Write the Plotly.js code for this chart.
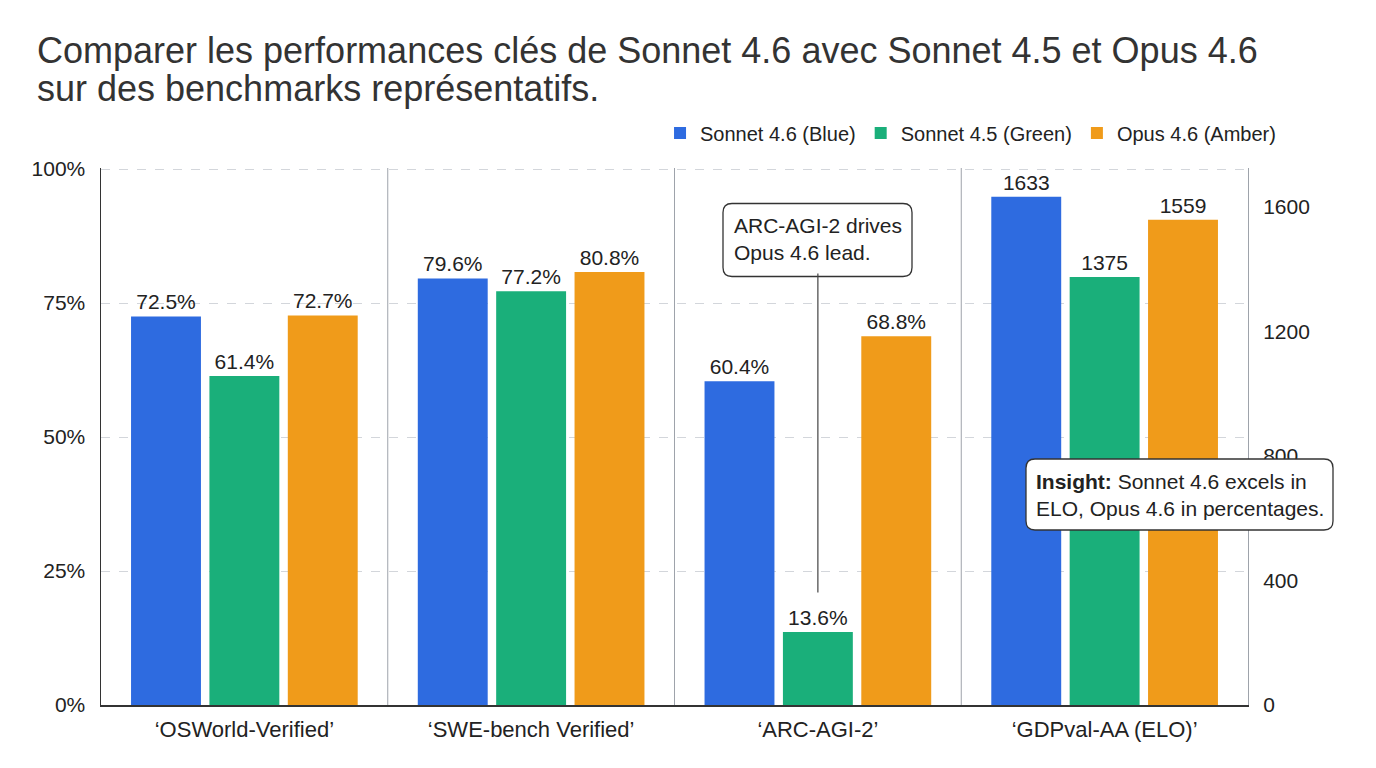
<!DOCTYPE html>
<html>
<head>
<meta charset="utf-8">
<script src="https://cdn.plot.ly/plotly-3.0.1.min.js"></script>
<style>
  html, body { margin: 0; padding: 0; background: #ffffff; }
  #chart { width: 1376px; height: 768px; }
</style>
</head>
<body>
<div id="chart"></div>
<script>
// ---- data ----
const categories = ["‘OSWorld-Verified’", "‘SWE-bench Verified’", "‘ARC-AGI-2’", "‘GDPval-AA (ELO)’"];
const pctCategories = ["‘OSWorld-Verified’", "‘SWE-bench Verified’", "‘ARC-AGI-2’"];
const eloCategories = ["‘GDPval-AA (ELO)’"];
const seriesNames = ["Sonnet 4.6 (Blue)", "Sonnet 4.5 (Green)", "Opus 4.6 (Amber)"];
const sonnet46Pct = [72.5, 79.6, 60.4];
const sonnet45Pct = [61.4, 77.2, 13.6];
const opus46Pct   = [72.7, 80.8, 68.8];
const sonnet46Elo = [1633];
const sonnet45Elo = [1375];
const opus46Elo   = [1559];
const pctTicks = [0, 25, 50, 75, 100];
const pctTickText = ["0%", "25%", "50%", "75%", "100%"];
const eloTicks = [0, 400, 800, 1200, 1600];
const titleLines = ["Comparer les performances clés de Sonnet 4.6 avec Sonnet 4.5 et Opus 4.6",
                    "sur des benchmarks représentatifs."];
const arcNote = "ARC-AGI-2 drives<br>Opus 4.6 lead.";
const insightNote = "<b>Insight:</b> Sonnet 4.6 excels in<br>ELO, Opus 4.6 in percentages.";

// ---- styles ----
const colors = ["#2e6be0", "#1aaf7a", "#f09b1a"];
const FONT = "Liberation Sans, Arial, Helvetica, sans-serif";
const textFont = { family: FONT, size: 21, color: "#222222" };

const pctSeries = [sonnet46Pct, sonnet45Pct, opus46Pct];
const eloSeries = [sonnet46Elo, sonnet45Elo, opus46Elo];

const traces = [];
pctSeries.forEach((vals, i) => {
  traces.push({
    type: "bar", name: seriesNames[i], legendgroup: "g" + i,
    x: pctCategories, y: vals, yaxis: "y",
    text: vals.map(v => v.toFixed(1) + "%"), texttemplate: "%{text}",
    marker: { color: colors[i], line: { width: 0 } },
    textposition: "outside", cliponaxis: false,
    textfont: textFont, hoverinfo: "x+y+name"
  });
});
eloSeries.forEach((vals, i) => {
  traces.push({
    type: "bar", name: seriesNames[i], legendgroup: "g" + i, showlegend: false,
    x: eloCategories, y: vals, yaxis: "y2",
    text: vals.map(v => String(v)), texttemplate: "%{text}",
    marker: { color: colors[i], line: { width: 0 } },
    textposition: "outside", cliponaxis: false,
    textfont: textFont, hoverinfo: "x+y+name"
  });
});

// category separators
const shapes = [];
for (let i = 1; i < categories.length; i++) {
  shapes.push({
    type: "line", xref: "x", yref: "paper",
    x0: i - 0.5, x1: i - 0.5, y0: 0, y1: 1,
    line: { color: "#9ea3ab", width: 1 }, layer: "below"
  });
}

// rounded boxes (pixel sized) for the notes
function roundedBox(xa, ya, w, h, r) {
  const x0 = -w / 2, x1 = w / 2, y0 = -h / 2, y1 = h / 2;
  const path = `M ${x0 + r},${y0} L ${x1 - r},${y0} Q ${x1},${y0} ${x1},${y0 + r} ` +
    `L ${x1},${y1 - r} Q ${x1},${y1} ${x1 - r},${y1} L ${x0 + r},${y1} ` +
    `Q ${x0},${y1} ${x0},${y1 - r} L ${x0},${y0 + r} Q ${x0},${y0} ${x0 + r},${y0} Z`;
  return {
    type: "path", xref: "paper", yref: "paper",
    xsizemode: "pixel", ysizemode: "pixel", xanchor: xa, yanchor: ya,
    path: path, fillcolor: "#ffffff", line: { color: "#333333", width: 1.3 }, layer: "above"
  };
}
// plot area: x 101..1248, y 168..705
const pxX = (px) => (px - 101) / (1248 - 101);
const pxY = (py) => (705 - py) / (705 - 168);

shapes.push(roundedBox(pxX(817.5), pxY(240), 189, 73, 9));
shapes.push(roundedBox(pxX(1179.5), pxY(494.5), 307, 71, 9));

const annotations = [
  {
    x: categories[2], xref: "x", y: 21, yref: "y",
    text: arcNote, showarrow: true, arrowhead: 0, arrowwidth: 1.2, arrowcolor: "#444444",
    ax: 0, ay: -353, axref: "pixel", ayref: "pixel",
    font: textFont, align: "left", borderpad: 9, borderwidth: 0,
    bgcolor: "rgba(0,0,0,0)"
  },
  {
    x: pxX(1179.5), xref: "paper", y: pxY(494.5), yref: "paper",
    xanchor: "center", yanchor: "middle",
    text: insightNote, showarrow: false, font: textFont, align: "left"
  }
];

const titleHtml = titleLines.map(t => '<span style="font-size:36px">' + t + '</span>').join("<br>");

const layout = {
  width: 1376, height: 768,
  margin: { l: 101, r: 128, t: 168, b: 63, pad: 0 },
  paper_bgcolor: "#ffffff", plot_bgcolor: "#ffffff",
  font: { family: FONT, color: "#222222" },
  title: {
    text: titleHtml,
    x: 37 / 1376, xanchor: "left", xref: "container",
    y: 1 - 63 / 768, yanchor: "top", yref: "container",
    font: { family: FONT, size: 29, color: "#333333" }
  },
  barmode: "group", bargap: 0.18, bargroupgap: 0.108,
  showlegend: true,
  legend: {
    orientation: "h", x: 1.0288, xanchor: "right", y: 1.065, yanchor: "middle",
    font: { family: FONT, size: 20, color: "#222222" }, traceorder: "normal",
    bgcolor: "rgba(0,0,0,0)"
  },
  xaxis: {
    type: "category", categoryorder: "array", categoryarray: categories,
    range: [-0.5, categories.length - 0.5],
    showline: true, linecolor: "#333333", linewidth: 1.5,
    showgrid: false, zeroline: false, ticks: "",
    tickfont: { family: FONT, size: 22, color: "#222222" },
    ticklabelstandoff: 4
  },
  yaxis: {
    range: [0, 100.2], tickvals: pctTicks, ticktext: pctTickText,
    showline: true, linecolor: "#333333", linewidth: 1.5,
    showgrid: true, gridcolor: "#d3d6db", griddash: "dash", gridwidth: 1,
    zeroline: false, ticks: "",
    tickfont: { family: FONT, size: 21, color: "#222222" },
    ticklabelstandoff: 10
  },
  yaxis2: {
    overlaying: "y", side: "right",
    range: [0, 1725], tickvals: eloTicks,
    showline: true, linecolor: "#9ea3ab", linewidth: 1,
    showgrid: false, zeroline: false, ticks: "",
    tickfont: { family: FONT, size: 21, color: "#222222" },
    ticklabelstandoff: 10
  },
  shapes: shapes,
  annotations: annotations
};

Plotly.newPlot("chart", traces, layout, { displayModeBar: false, staticPlot: true });
</script>
</body>
</html>
